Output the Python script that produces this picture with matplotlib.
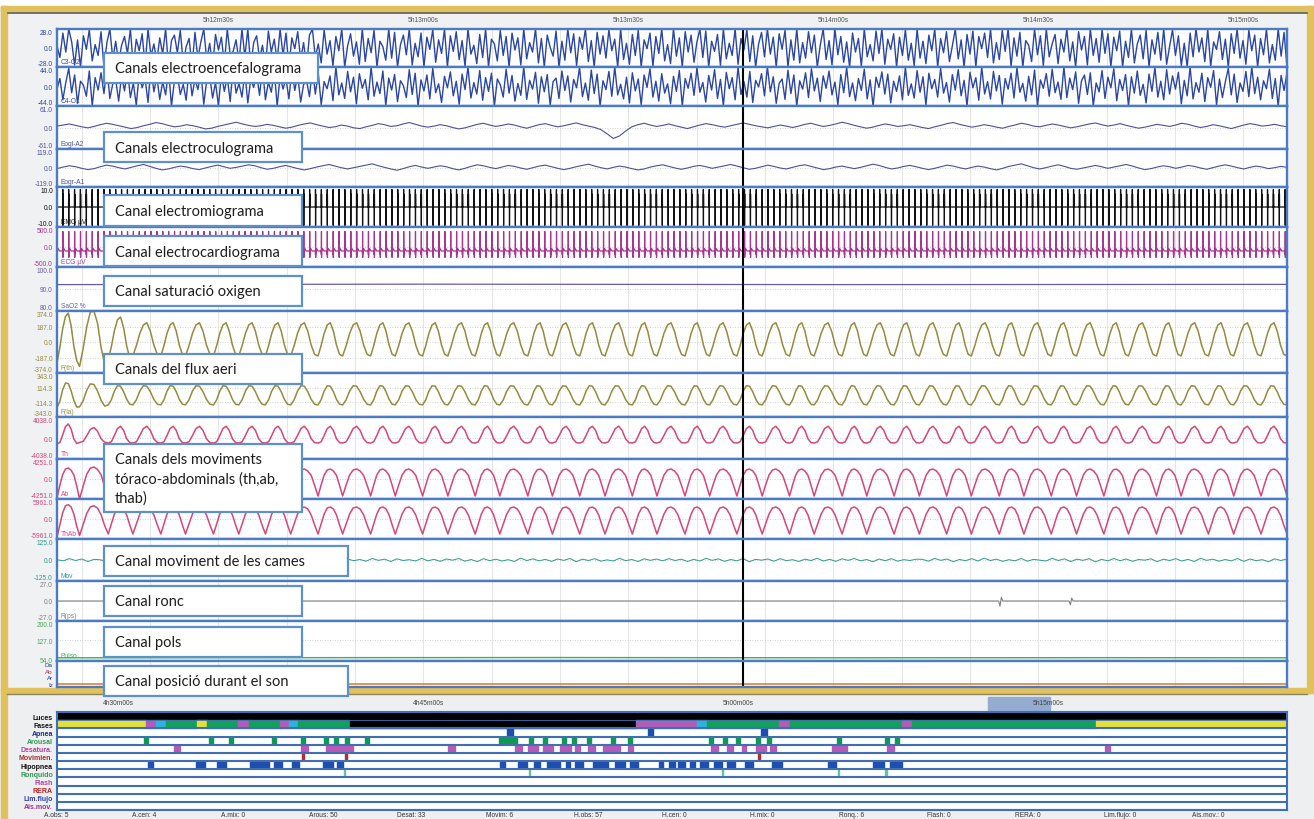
import numpy as np
import matplotlib
matplotlib.use("Agg")
import matplotlib.pyplot as plt
from matplotlib.patches import Rectangle

# ====================== DATA ======================
# --- top (signals) window, seconds after 5h12m00s ---
window_s = [6.4, 186.4]
top_tick_s = [30, 60, 90, 120, 150, 180]
top_tick_labels = ["5h12m30s", "5h13m00s", "5h13m30s", "5h14m00s", "5h14m30s", "5h15m00s"]
cursor_s = 106.8

eeg_c3o2 = [
 3, -14, 22, -6, 30, 9, -25, 12, -33, 18, -2, 27, -19, 5, -11, 24, -29, 8, 34, -16,
 10, -22, 4, 17, -8, 29, -31, 13, -4, 21, -26, 35, -12, 6, -20, 15, -9, 28, -34, 11,
 19, -7, 26, -23, 2, 14, -30, 23, -15, 9, 32, -18, 7, -27, 20, -3, 16, -24, 31, -10,
 -5, 12, -21, 29, -13, 36, -28, 8, 18, -16, 4, -32, 25, -6, 13, -19, 30, -11, 22, -35,
 15, -1, 24, -17, 8, -29, 19, 33, -14, 6, -22, 27, -9, 11, -26, 17, -4, 28, -31, 3,
 21, -12, 9, -24, 34, -20, 14, -7, 26, -33, 10, 2, -18, 30, -15, 23, -28, 5, 19, -10,
 32, -25, 7, -13, 22, -36, 16, -2, 27, -21, 12, -8, 29, -30, 18, -5, 24, -17, 11, -27,
 35, -9, 4, -23, 20, -14, 31, -29, 13, 6, -19, 26, -11, 17, -32, 22, -3, 15, -25, 28,
 -16, 8, -6, 33, -22, 14, -28, 19, 1, -12, 25, -34, 10, -18, 29, -7, 21, -26, 16, -2,
 30, -20, 11, -31, 23, -9, 18, -15, 27, -4, 13, -29, 34, -17, 7, -24, 20, -11, 26, -33,
 12, -1, 22, -27, 17, -8, 31, -19, 5, -23, 28, -12, 15, -35, 24, -6, 19, -21, 9, 32,
 -14, 25, -30, 10, -5, 20, -26, 33, -16, 7, -11, 29, -24, 14, -3, 27, -20, 18, -32, 6,
 23, -13, 30, -9, 16, -28, 21, -2, 26, -34, 12, -18, 35, -22, 8, -15, 24, -7, 19, -29,
 4, 28, -17, 11, -25, 31, -10, 17, -21, 9, -33, 22, -6, 14, -27, 30, -13, 5, -19, 25,
 -8, 33, -24, 13, -2, 21, -30, 16, -11, 27, -18, 7, -26, 34, -15, 10, -23, 19, -4, 29,
 -31, 14, -7, 24, -20, 3, 32, -16, 12, -28, 20, -9, 25, -35, 17, -1, 22, -14, 28, -22,
 8, -17, 26, -5, 31, -27, 15, -12, 23, -33, 11, 4, -20, 29, -10, 18, -26, 34, -13, 6,
 20, -23, 13, -6, 28, -19, 9, -30, 24, -3, 17, -25, 32, -11, 14, -21, 27, -8, 21, -34,
 16, -4, 25, -29, 10, -14, 30, -22, 6, 19, -16, 26, -32, 12, -9, 23, -18, 33, -24, 2,
 27, -11, 18, -26, 7, -35, 22, -13, 29, -6, 15, -20, 31, -27, 9, -2, 24, -17, 13, -30,
 21, -8, 34, -15, 11, -24, 26, -4, 19, -31, 14, -10, 28, -22, 5, -18, 30, -12, 23, -28,
]
eeg_c4o1 = [
 -5, 18, -30, 9, 41, -14, 26, -38, 12, 3, -22, 35, -47, 20, -8, 31, -16, 44, -27, 6,
 15, -33, 24, -10, 38, -25, 8, -42, 29, -3, 19, -36, 48, -12, 22, -29, 11, -19, 37, -44,
 13, 27, -18, 5, -31, 40, -21, 16, -7, 33, -40, 14, 25, -26, 9, -45, 30, -11, 21, -34,
 46, -15, 7, -24, 32, -37, 17, -2, 28, -20, 43, -30, 10, -13, 36, -48, 23, -6, 18, -28,
 39, -9, 26, -35, 4, 14, -23, 42, -17, 31, -41, 11, -5, 24, -32, 47, -19, 8, -27, 34,
 -12, 21, -39, 29, -4, 16, -30, 45, -22, 10, -16, 35, -43, 19, -8, 27, -34, 13, 2, -25,
 38, -18, 30, -46, 15, -10, 26, -28, 41, -14, 6, -36, 23, -3, 33, -21, 12, -40, 28, -7,
 44, -26, 9, -17, 36, -31, 20, -11, 30, -45, 17, 4, -24, 39, -15, 25, -33, 7, -20, 48,
 -29, 14, -6, 32, -38, 22, -12, 27, -42, 11, 19, -27, 35, -9, 24, -35, 16, -3, 43, -23,
 8, -31, 37, -16, 28, -44, 13, -7, 34, -22, 45, -19, 5, -28, 21, -37, 31, -10, 17, -41,
 26, -2, 40, -24, 12, -33, 29, -15, 6, -39, 23, -11, 36, -47, 18, -4, 30, -20, 42, -13,
 9, -35, 25, -8, 38, -27, 16, -43, 32, -5, 20, -30, 47, -18, 11, -24, 34, -36, 14, -1,
 29, -21, 44, -12, 22, -38, 7, 17, -29, 37, -16, 26, -45, 13, -6, 31, -25, 40, -10, 19,
 -34, 24, -4, 35, -19, 10, -41, 27, -14, 43, -23, 8, -32, 18, -9, 39, -28, 15, -46, 21,
 -2, 33, -17, 28, -37, 12, -11, 24, -30, 46, -20, 6, -26, 36, -13, 22, -42, 30, -5, 16,
 -24, 41, -15, 9, -35, 27, -8, 38, -21, 14, -44, 32, -3, 20, -31, 45, -17, 11, -28, 34,
 -10, 25, -40, 18, -6, 30, -26, 42, -13, 7, -33, 23, -19, 37, -48, 15, -4, 29, -22, 39,
 -14, 10, -29, 44, -25, 19, -7, 33, -38, 13, 26, -18, 31, -43, 8, -12, 36, -27, 21, -3,
 40, -32, 16, -9, 27, -46, 22, -15, 35, -20, 5, -37, 28, -11, 43, -24, 12, -30, 38, -17,
 24, -6, 32, -39, 14, -21, 45, -28, 9, -13, 30, -34, 20, -2, 36, -42, 17, -25, 11, 41,
 -19, 28, -36, 8, -11, 34, -23, 47, -16, 21, -30, 13, -5, 39, -27, 18, -44, 25, -9, 31,
]
eog_l = [
 4, 7, 10, 6, 2, -1, 3, 8, 12, 9, 5, 1, -3, 0, 5, 9, 14, 11, 6, 2,
 4, 8, 5, 1, -4, -2, 3, 7, 11, 15, 10, 6, 3, 5, 9, 6, 2, -2, 1, 6,
 10, 13, 8, 4, 0, 2, 7, 4, -1, -3, 2, 6, 11, 8, 3, 5, 10, 14, 9, 4,
 1, 4, 8, 5, 0, -4, -1, 4, 9, 12, 7, 3, 6, 10, 7, 2, -2, 3, 8, 11,
 6, 2, 5, 9, 13, 8, 4, 0, -6, -18, -31, -24, -10, 2, 8, 12, 7, 3, 6, 10,
 5, 1, -3, 2, 7, 11, 8, 4, 1, 5, 9, 13, 9, 5, 2, -1, 3, 7, 4, 0,
 4, 9, 12, 7, 3, 6, 10, 15, 11, 6, 2, -2, 1, 6, 10, 7, 3, 5, 8, 4,
 0, -3, 2, 6, 11, 14, 9, 5, 1, 4, 8, 5, 1, -2, 3, 7, 12, 9, 4, 2,
 6, 10, 7, 3, -1, 2, 6, 10, 13, 8, 4, 7, 11, 6, 2, -2, 1, 5, 9, 6,
 3, 7, 12, 9, 4, 0, 3, 8, 5, 1, -3, 2, 7, 11, 8, 4, 6, 9, 5, 2,
]
eog_r = [
 -4, 6, 14, 8, -2, -10, -4, 8, 18, 12, 2, -6, 4, 14, 22, 10, -2, -12, -6, 4,
 12, 6, -4, -10, 0, 10, 18, 8, -2, 4, 12, 20, 14, 2, -8, -2, 8, 16, 6, -4,
 -12, -4, 6, 14, 22, 12, 2, -6, 2, 10, 18, 26, 14, 4, -6, -14, -4, 8, 16, 6,
 -2, 6, 14, 8, -4, -12, -2, 10, 20, 14, 4, -4, 6, 16, 10, 0, -8, 2, 12, 18,
 8, -2, -10, -2, 8, 16, 24, 12, 2, -6, 4, 12, 6, -4, -12, -6, 6, 14, 20, 10,
 0, -8, 0, 10, 16, 8, -2, 6, 14, 22, 12, 2, -8, -2, 8, 18, 10, 0, -6, 4,
 14, 20, 10, 0, -10, -4, 6, 12, 4, -4, 4, 14, 24, 16, 4, -6, 0, 10, 16, 8,
 -2, -10, -2, 8, 18, 12, 2, -6, 4, 12, 6, -4, -12, -2, 10, 18, 26, 14, 2, -6,
 2, 12, 20, 10, -2, -8, 0, 8, 16, 8, -2, 6, 14, 22, 12, 0, -10, -4, 6, 14,
 8, -2, 6, 16, 10, 0, -8, 2, 12, 20, 12, 2, -6, 4, 12, 6, -4, 2, 10, 4,
]
mov_leg = [
 2, -5, 8, -3, 6, -9, 4, 1, -7, 10, -4, 3, -8, 5, -2, 9, -6, 2, -10, 7,
 -3, 4, -8, 11, -5, 1, -6, 8, -9, 3, -2, 7, -11, 5, -4, 9, -7, 2, -5, 10,
 -3, 6, -8, 4, -1, 8, -10, 6, -4, 3, -7, 9, -2, 5, -9, 7, -3, 2, -6, 10,
 -5, 4, -8, 6, -1, 9, -7, 3, -10, 8, -4, 5, -6, 2, -9, 11, -3, 7, -5, 4,
 -8, 6, -2, 9, -10, 5, -3, 8, -7, 1, -6, 10, -4, 3, -9, 7, -2, 6, -5, 8,
 -3, 5, -9, 4, -6, 10, -2, 7, -8, 3, -5, 9, -11, 4, -1, 6, -7, 8, -4, 2,
 -9, 5, -3, 10, -6, 4, -8, 7, -2, 9, -5, 3, -10, 6, -4, 8, -7, 2, -3, 5,
 4, -7, 9, -2, 6, -10, 3, -4, 8, -6, 11, -3, 5, -8, 2, -5, 9, -7, 4, -1,
 -6, 10, -3, 7, -9, 5, -2, 8, -11, 4, -5, 9, -4, 6, -8, 3, -1, 7, -10, 5,
 -3, 8, -6, 4, -9, 10, -2, 5, -7, 3, -5, 9, -8, 6, -4, 2, -10, 7, -3, 6,
]

# heart beats (ECG artefact also visible on EMG)
heart_rr_s = 0.86
emg_beat_t = [-0.03, -0.012, 0.0, 0.012, 0.03]
emg_beat_v = [0.0, 8.8, -9.2, 6.5, 0.0]
ecg_beat_t = [-0.12, -0.03, -0.012, 0.0, 0.014, 0.04, 0.16, 0.26, 0.36]
ecg_beat_v = [-100, -100, -190, 390, -260, -110, -40, -70, -100]

sao2_t = [6.4, 60.0, 120.0, 186.4]
sao2_v = [92.0, 92.2, 92.0, 92.1]

# respiration: onset of each breath (s) and one-cycle shapes (fraction of full scale)
breath_onsets_s = [
 6.4, 9.7, 13.9, 17.5, 21.6, 25.2, 29.3, 33.0, 36.9, 40.6, 44.6, 48.2, 52.3, 55.9,
 59.9, 63.6, 67.6, 71.2, 75.3, 78.9, 82.9, 86.6, 90.6, 94.2, 98.3, 101.9, 105.9,
 109.6, 113.6, 117.2, 121.3, 124.9, 128.9, 132.6, 136.6, 140.2, 144.3, 147.9,
 151.9, 155.6, 159.6, 163.2, 167.3, 170.9, 174.9, 178.6, 182.6, 186.4,
]
breath_phase = [0.0, 0.125, 0.25, 0.375, 0.5, 0.625, 0.75, 0.875]
fth_cycle = [-0.45, -0.12, 0.28, 0.55, 0.62, 0.35, -0.1, -0.4]
fla_cycle = [-0.45, -0.22, 0.18, 0.42, 0.40, 0.15, -0.2, -0.42]
th_cycle = [-0.24, -0.18, 0.12, 0.45, 0.56, 0.36, -0.04, -0.22]
ab_cycle = [-0.85, -0.3, 0.2, 0.45, 0.5, 0.4, 0.18, -0.32]
thab_cycle = [-0.75, -0.25, 0.25, 0.55, 0.6, 0.5, 0.2, -0.3]
fth_first_amp = [1.5, 1.75, 1.3]
fla_first_amp = [1.3, 1.2, 1.0]
th_first_amp = [1.2, 0.9, 1.0]
ab_first_amp = [1.1, 1.2, 0.9]
thab_first_amp = [1.2, 1.1, 1.0]

snore_t = [6.4, 144.2, 144.4, 144.6, 144.8, 154.5, 154.7, 154.9, 155.1, 186.4]
snore_v = [0.0, 0.0, -7.0, 5.0, 0.0, 0.0, -5.0, 4.0, 0.0, 0.0]
pulse_t = [6.4, 40.0, 80.0, 120.0, 160.0, 186.4]
pulse_v = [62.0, 62.5, 63.0, 62.0, 62.5, 62.0]
position_t = [6.4, 186.4]
position_v = [0, 0]

# --- bottom hypnogram, minutes after 4h00m00s ---
hyp_window_min = [27.05, 86.55]
hyp_tick_min = [30, 45, 60, 75]
hyp_tick_labels = ["4h30m00s", "4h45m00s", "5h00m00s", "5h15m00s"]
lights_off_min = [27.05, 86.55]
stage_bounds_min = [27.05, 31.35, 31.84, 32.32, 33.82, 34.31, 35.81, 36.34, 37.84,
                    38.27, 38.71, 41.22, 55.06, 58.01, 58.50, 61.98, 62.51, 67.93,
                    68.41, 77.31, 86.55]
stage_seq = ["W", "REM", "N1", "N2", "W", "N2", "REM", "N2", "REM", "N1", "N2",
             "N3", "REM", "N1", "N2", "REM", "N2", "REM", "N2", "W"]
apnea_start = [48.82, 55.64, 61.11]
apnea_end = [49.11, 55.88, 61.40]
arousal_min = [31.26, 34.40, 35.37, 37.45, 38.85, 39.97, 40.45, 40.98, 41.95, 48.43,
               48.63, 48.87, 49.11, 49.88, 50.56, 51.48, 51.96, 52.69, 53.85, 54.67,
               58.59, 59.27, 59.90, 60.87, 61.40, 64.78, 67.11, 67.59]
arousal_dur_min = 0.19
desat_start = [32.71, 38.85, 40.06, 45.97, 49.21, 49.84, 50.56, 51.38, 52.11, 52.74,
               53.46, 54.67, 58.69, 59.47, 60.19, 60.87, 61.54, 64.54, 67.20, 77.75]
desat_end = [33.00, 39.19, 41.37, 46.30, 49.55, 50.32, 51.05, 51.92, 52.35, 53.08,
             54.29, 54.92, 59.04, 59.75, 60.38, 61.35, 61.83, 65.27, 67.54, 77.99]
movement_min = [38.90, 40.98, 60.96]
movement_dur_min = 0.1
hypop_start = [31.45, 33.77, 34.79, 36.39, 37.55, 38.42, 39.92, 40.59, 48.48, 49.35,
               50.13, 50.75, 51.67, 52.11, 52.98, 54.04, 54.77, 56.17, 56.66, 57.09,
               57.67, 58.16, 58.83, 59.47, 60.33, 61.64, 64.35, 66.53, 67.35]
hypop_end = [31.69, 34.21, 35.22, 37.31, 37.93, 38.76, 40.40, 40.88, 48.72, 49.79,
             50.42, 51.38, 51.87, 52.50, 53.71, 54.53, 55.16, 56.37, 56.95, 57.43,
             57.91, 58.54, 59.22, 59.85, 60.72, 62.12, 64.74, 67.06, 67.93]
snore_min = [40.93, 49.88, 59.22, 64.83, 67.11]
snore_dur_min = 0.07

hyp_rows = ["Luces", "Fases", "Apnea", "Arousal", "Desatura.", "Movimien.", "Hipopnea",
            "Ronquido", "Flash", "RERA", "Lim.flujo", "Ais.mov."]
totals = ["A.obs: 5", "A.cen: 4", "A.mix: 0", "Arous: 50", "Desat: 33", "Movim: 6",
          "H.obs: 57", "H.cen: 0", "H.mix: 0", "Ronq.: 6", "Flash: 0", "RERA: 0",
          "Lim.flujo: 0", "Ais.mov.: 0"]

annotations = [
    "Canals electroencefalograma", "Canals electroculograma", "Canal electromiograma",
    "Canal electrocardiograma", "Canal saturació oxigen", "Canals del flux aeri",
    "Canals dels moviments\ntóraco-abdominals (th,ab,\nthab)",
    "Canal moviment de les cames", "Canal ronc", "Canal pols",
    "Canal posició durant el son",
]

# ====================== LAYOUT / STYLE ======================
W, H = 1314, 820
PX0, PX1 = 57, 1287
GOLD = "#E0C15C"
BORDER = "#4A7BC4"
SMALL = dict(family="Liberation Sans", fontsize=4.8)

fig = plt.figure(figsize=(W / 100, H / 100), dpi=100)
fig.patch.set_facecolor("#EEEFF0")


def px_axes(x0, y0, x1, y1, z):
    return fig.add_axes([x0 / W, 1 - y1 / H, (x1 - x0) / W, (y1 - y0) / H], zorder=z)


bg = px_axes(0, 0, W, H, 0)
bg.set_xlim(0, W); bg.set_ylim(H, 0); bg.axis("off")
bg.add_patch(Rectangle((0, 0), W, 7, color="white"))
bg.add_patch(Rectangle((8, 14), 1299, 676, color="#F0F1F2"))
bg.add_patch(Rectangle((1, 7), 1312, 5, color=GOLD))
bg.plot([8, 1307], [13.5, 13.5], color="#5E5C50", lw=1.2)
bg.add_patch(Rectangle((1, 7), 6, H - 7, color=GOLD))
bg.add_patch(Rectangle((1307, 7), 6, 687, color=GOLD))
bg.add_patch(Rectangle((1, 689), 1312, 5, color=GOLD))
bg.plot([7, 1307], [694.5, 694.5], color="#8A8460", lw=1.0)
bg.add_patch(Rectangle((988, 698), 62, 14, color="#93ACD0"))

# ----- signal panels -----
channels = [
    # name, y0, y1, ylim, ticks, tick labels, colour, lw
    ("C3-O2", 30, 68, (-28, 28), [28, 0, -28], ["28.0", "0.0", "-28.0"], "#2A46A6", 1.0),
    ("C4-O1", 68, 107, (-44, 44), [44, 0, -44], ["44.0", "0.0", "-44.0"], "#2A46A6", 1.0),
    ("Eogl-A2", 107, 150, (-61, 61), [61, 0, -61], ["61.0", "0.0", "-61.0"], "#4B4FA6", 0.8),
    ("Eogr-A1", 150, 188, (-119, 119), [119, 0, -119], ["119.0", "0.0", "-119.0"], "#4B4FA6", 0.8),
    ("EMG µV", 188, 228, (-10, 10), [10, 0, -10], ["10.0", "0.0", "-10.0"], "#111111", 0.9),
    ("ECG µV", 228, 268, (-500, 500), [500, 0, -500], ["500.0", "0.0", "-500.0"], "#A8358F", 0.9),
    ("SaO2 %", 268, 312, (80, 100), [100, 90, 80], ["100.0", "90.0", "80.0"], "#6A5AA8", 0.9),
    ("F(th)", 312, 374, (-374, 374), [374, 187, 0, -187, -374],
     ["374.0", "187.0", "0.0", "-187.0", "-374.0"], "#958B3E", 1.1),
    ("F(la)", 374, 418, (-343, 343), [343, 114.3, -114.3, -343],
     ["343.0", "114.3", "-114.3", "-343.0"], "#958B3E", 1.1),
    ("Th", 418, 460, (-4038, 4038), [4038, 0, -4038], ["4038.0", "0.0", "-4038.0"], "#D8457E", 1.1),
    ("Ab", 460, 500, (-4251, 4251), [4251, 0, -4251], ["4251.0", "0.0", "-4251.0"], "#D8457E", 1.1),
    ("ThAb", 500, 540, (-5961, 5961), [5961, 0, -5961], ["5961.0", "0.0", "-5961.0"], "#D8457E", 1.1),
    ("Mov", 540, 582, (-125, 125), [125, 0, -125], ["125.0", "0.0", "-125.0"], "#2A9C8C", 0.7),
    ("R(ps)", 582, 622, (-27, 27), [27, 0, -27], ["27.0", "0.0", "-27.0"], "#808080", 0.8),
    ("Pulso", 622, 662, (50, 200), [200, 127, 54], ["200.0", "127.0", "54.0"], "#3DAE5A", 1.0),
    ("", 662, 688, (-0.5, 3.5), [3, 2, 1, 0], ["Da", "Ab", "Ar", "Iz"], "#9A3A5A", 1.2),
]


def tile_beats(bt, bv):
    beats = np.arange(window_s[0], window_s[1] + heart_rr_s, heart_rr_s)
    xs = np.concatenate([b + np.asarray(bt) for b in beats])
    ys = np.concatenate([np.asarray(bv, float) for _ in beats])
    return xs, ys


def resp_trace(cycle, first_amp, full_scale):
    xs, ys = [], []
    for i in range(len(breath_onsets_s) - 1):
        a, b = breath_onsets_s[i], breath_onsets_s[i + 1]
        k = first_amp[i] if i < len(first_amp) else 1.0
        for ph, v in zip(breath_phase, cycle):
            xs.append(a + ph * (b - a))
            ys.append(v * k * full_scale)
    xs.append(breath_onsets_s[-1]); ys.append(cycle[0] * full_scale)
    return np.array(xs), np.clip(np.array(ys), -full_scale, full_scale)


def dense(vals):
    return np.linspace(window_s[0], window_s[1], len(vals)), np.asarray(vals, float)


traces = [
    dense(eeg_c3o2), dense(eeg_c4o1), dense(eog_l), dense(eog_r),
    tile_beats(emg_beat_t, emg_beat_v), tile_beats(ecg_beat_t, ecg_beat_v),
    (sao2_t, sao2_v),
    resp_trace(fth_cycle, fth_first_amp, 374), resp_trace(fla_cycle, fla_first_amp, 343),
    resp_trace(th_cycle, th_first_amp, 4038), resp_trace(ab_cycle, ab_first_amp, 4251),
    resp_trace(thab_cycle, thab_first_amp, 5961),
    dense(mov_leg), (snore_t, snore_v), (pulse_t, pulse_v), (position_t, position_v),
]
pos_colors = ["#2B3A8A", "#B0304A", "#2B3A8A", "#2B3A8A"]

for idx, ((name, y0, y1, lim, ticks, tlabels, col, lw), (tx, ty)) in enumerate(zip(channels, traces)):
    ax = px_axes(PX0, y0, PX1, y1, 2)
    ax.set_facecolor("white")
    ax.set_xlim(window_s)
    ax.set_ylim(lim)
    ax.set_xticks(top_tick_s)
    ax.set_xticks(np.arange(10, 190, 10), minor=True)
    ax.grid(axis="x", which="both", color="#E2E2E2", lw=0.6)
    ax.tick_params(axis="x", which="both", length=0, labelbottom=False)
    ax.set_yticks(ticks)
    ax.set_yticklabels(tlabels, **SMALL)
    ax.tick_params(axis="y", length=0, pad=3, labelcolor=col if idx < 15 else "#2B3A8A")
    if idx < 15:
        ax.grid(axis="y", ls=(0, (1, 2)), color="#C4C4C4", lw=0.6)
        labs = ax.get_yticklabels()
        if ticks[0] >= lim[1]:
            labs[0].set_verticalalignment("top")
        if ticks[-1] <= lim[0]:
            labs[-1].set_verticalalignment("bottom")
    for s in ax.spines.values():
        s.set_color(BORDER)
        s.set_linewidth(1.7)
    lc = col if idx < 15 else "#D9863A"
    ax.plot(np.asarray(tx), np.clip(np.asarray(ty, float), lim[0], lim[1]),
            color=lc, lw=lw, solid_joinstyle="round", clip_on=True)
    ax.axvline(cursor_s, color="black", lw=1.5)
    if name:
        ax.text(0.003, 0.04, name, transform=ax.transAxes, color=col,
                va="bottom", ha="left", **SMALL)
    if idx == 15:
        for lab, c in zip(ax.get_yticklabels(), pos_colors):
            lab.set_color(c)
            lab.set_fontsize(4.5)
    if idx == 0:
        ax.tick_params(axis="x", which="major", labeltop=True, pad=4, labelcolor="#555555")
        ax.set_xticklabels(top_tick_labels, **SMALL)

# ----- hypnogram -----
stage_colors = {"W": "#E6DF3A", "REM": "#B15DB8", "N1": "#2DB4DA", "N2": "#10A257", "N3": "#000000"}
hx = px_axes(PX0, 713, PX1, 811, 2)
hx.set_facecolor("white")
hx.set_xlim(hyp_window_min)
hx.set_ylim(len(hyp_rows), 0)
hx.broken_barh([(lights_off_min[0], lights_off_min[1] - lights_off_min[0])], (0, 1), color="black")
for i in range(len(stage_seq)):
    a, b = stage_bounds_min[i], stage_bounds_min[i + 1]
    hx.broken_barh([(a, b - a)], (1.0, 1.0), color=stage_colors[stage_seq[i]])


def bars(row, starts, ends, color):
    hx.broken_barh([(a, b - a) for a, b in zip(starts, ends)], (row + 0.12, 0.76), color=color)


bars(2, apnea_start, apnea_end, "#1E4EAE")
bars(3, arousal_min, [a + arousal_dur_min for a in arousal_min], "#0E9A4E")
bars(4, desat_start, desat_end, "#B65AB5")
bars(5, movement_min, [a + movement_dur_min for a in movement_min], "#B0302A")
bars(6, hypop_start, hypop_end, "#1E4EAE")
bars(7, snore_min, [a + snore_dur_min for a in snore_min], "#6CC48A")
for r in range(2, len(hyp_rows) + 1):
    hx.axhline(r, color="#3F6FB8", lw=1.5)
hx.axhline(1, color="#3F6FB8", lw=0.6)
for s in hx.spines.values():
    s.set_color("#3F6FB8")
    s.set_linewidth(1.5)
hx.set_yticks(np.arange(len(hyp_rows)) + 0.5)
hx.set_yticklabels(hyp_rows, family="Liberation Sans", fontsize=5, fontweight="bold")
row_colors = ["#111111", "#111111", "#1A2C80", "#2E9A50", "#B0409A", "#A03030",
              "#111111", "#2E9A50", "#B0409A", "#C02020", "#3040B0", "#A03090"]
for lab, c in zip(hx.get_yticklabels(), row_colors):
    lab.set_color(c)
hx.tick_params(axis="y", length=0, pad=3)
hx.xaxis.tick_top()
hx.set_xticks(hyp_tick_min)
hx.set_xticklabels(hyp_tick_labels, **SMALL)
hx.tick_params(axis="x", length=0, pad=4, labelcolor="#444444")

# ----- overlay: annotation boxes and totals -----
ov = px_axes(0, 0, W, H, 10)
ov.set_xlim(0, W); ov.set_ylim(H, 0); ov.axis("off")
ov.patch.set_alpha(0)
box_geom = [(104, 54, 318, 84), (104, 133, 302, 163), (104, 196, 302, 227),
            (104, 237, 302, 267), (104, 277, 302, 307), (104, 355, 302, 385),
            (104, 445, 302, 513), (104, 547, 348, 577), (104, 587, 302, 617),
            (104, 628, 302, 658), (104, 667, 348, 697)]
for (x0, y0, x1, y1), txt in zip(box_geom, annotations):
    ov.add_patch(Rectangle((x0, y0), x1 - x0, y1 - y0, facecolor="white",
                           edgecolor="#5E90CC", lw=1.6))
    ov.text(x0 + 11, (y0 + y1) / 2 + 0.5, txt, ha="left", va="center", family="Lato",
            fontsize=10.5, color="#1E1E1E", linespacing=1.45)

for i, t in enumerate(totals):
    ov.text(44 + i * 88.3, 816, t, ha="left", va="center", color="#333333", **SMALL)

fig.savefig("out.png", dpi=100, facecolor=fig.get_facecolor())
